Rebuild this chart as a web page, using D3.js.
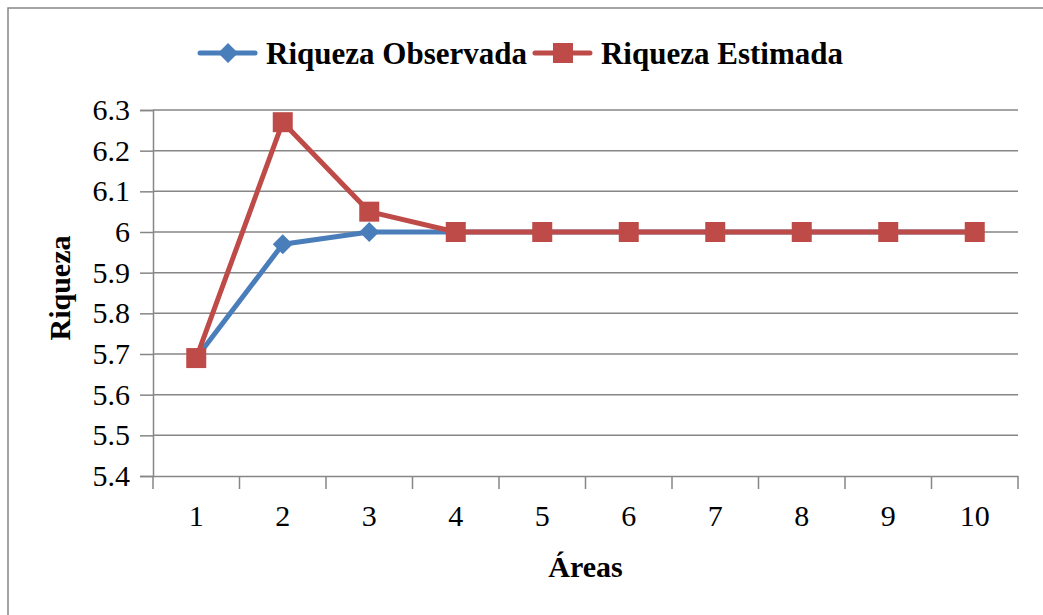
<!DOCTYPE html>
<html>
<head>
<meta charset="utf-8">
<script src="https://cdn.jsdelivr.net/npm/d3@7"></script>
<style>
  body { margin: 0; background: #fff; }
  svg text { font-family: "Times New Roman", "Liberation Serif", Tinos, "DejaVu Serif", serif !important; fill: #000; }
</style>
</head>
<body>
<div id="chart-area"></div>
<script>
/** Data **/
const areas = ['1', '2', '3', '4', '5', '6', '7', '8', '9', '10'];
const riquezaObservada = [5.69, 5.97, 6.0, 6.0, 6.0, 6.0, 6.0, 6.0, 6.0, 6.0];
const riquezaEstimada  = [5.69, 6.27, 6.05, 6.0, 6.0, 6.0, 6.0, 6.0, 6.0, 6.0];
const yTicks = [5.4, 5.5, 5.6, 5.7, 5.8, 5.9, 6.0, 6.1, 6.2, 6.3];

const series = [
    { name: 'Riqueza Observada', values: riquezaObservada, color: '#4A7EBB', marker: 'diamond' },
    { name: 'Riqueza Estimada',  values: riquezaEstimada,  color: '#BE4B48', marker: 'square' }
];

/* SVG */
const W = 1043, H = 615;
const margin = { left: 153, right: 25, top: 110, bottom: 139 };
const width  = W - margin.left - margin.right;
const height = H - margin.top - margin.bottom;
const FONT = 30;

const svg = d3.select('#chart-area')
    .append('svg')
    .attr('width', W)
    .attr('height', H);

// outer frame (right and bottom run off the picture)
svg.append('rect')
    .attr('x', 8).attr('y', 8)
    .attr('width', W + 20).attr('height', H + 20)
    .attr('fill', '#fff')
    .attr('stroke', '#878787')
    .attr('stroke-width', 1.5);

const g = svg.append('g')
    .attr('transform', `translate(${margin.left}, ${margin.top})`);

/* Scales */
const x = d3.scaleBand().domain(areas).range([0, width]);
const y = d3.scaleLinear().domain([5.4, 6.3]).range([height, 0]);

/* Grid + y axis */
const yAxis = g.append('g')
    .attr('class', 'y axis')
    .call(d3.axisLeft(y)
        .tickValues(yTicks)
        .tickSize(13)
        .tickPadding(10)
        .tickFormat(d => String(+d.toFixed(1))));
yAxis.attr('font-family', null);
yAxis.select('.domain').attr('stroke', '#868686').attr('stroke-width', 1.5);
yAxis.selectAll('.tick line').attr('stroke', '#868686').attr('stroke-width', 1.5);
yAxis.selectAll('.tick text').attr('font-size', FONT + 'px');

g.append('g')
    .attr('class', 'grid')
    .selectAll('line')
    .data(yTicks.filter(d => d > 5.4))
    .enter().append('line')
        .attr('x1', 0).attr('x2', width)
        .attr('y1', d => y(d)).attr('y2', d => y(d))
        .attr('stroke', '#868686')
        .attr('stroke-width', 1.5);

/* X axis */
const xAxis = g.append('g')
    .attr('class', 'x axis')
    .attr('transform', `translate(0,${height})`)
    .call(d3.axisBottom(x).tickSize(0).tickPadding(29));
xAxis.attr('font-family', null);
xAxis.select('.domain').attr('stroke', '#868686').attr('stroke-width', 1.5);
xAxis.selectAll('.tick text').attr('font-size', FONT + 'px');

// category boundary ticks
xAxis.append('g')
    .selectAll('line')
    .data(d3.range(areas.length + 1))
    .enter().append('line')
        .attr('x1', i => i * x.step()).attr('x2', i => i * x.step())
        .attr('y1', 0).attr('y2', 13)
        .attr('stroke', '#868686')
        .attr('stroke-width', 1.5);

/* Labels */
g.append('text')
    .attr('x', width / 2)
    .attr('y', height + 101)
    .attr('text-anchor', 'middle')
    .attr('font-size', FONT + 'px')
    .attr('font-weight', 'bold')
    .text('Áreas');

g.append('text')
    .attr('transform', 'rotate(-90)')
    .attr('x', -178)
    .attr('y', -83)
    .attr('text-anchor', 'middle')
    .attr('font-size', FONT + 'px')
    .attr('font-weight', 'bold')
    .text('Riqueza');

/* Markers */
function drawMarker(sel, type, color) {
    if (type === 'square') {
        sel.append('rect')
            .attr('x', -10).attr('y', -10)
            .attr('width', 20).attr('height', 20)
            .attr('fill', color);
    } else {
        sel.append('path')
            .attr('d', 'M0,-10L10,0L0,10L-10,0Z')
            .attr('fill', color);
    }
}

/* Lines */
const line = d3.line()
    .x((d, i) => x(areas[i]) + x.bandwidth() / 2)
    .y(d => y(d));

series.forEach(s => {
    g.append('path')
        .attr('d', line(s.values))
        .attr('fill', 'none')
        .attr('stroke', s.color)
        .attr('stroke-width', 5)
        .attr('stroke-linejoin', 'round');

    g.append('g')
        .selectAll('g')
        .data(s.values)
        .enter().append('g')
            .attr('transform', (d, i) => `translate(${x(areas[i]) + x.bandwidth() / 2},${y(d)})`)
            .each(function() { drawMarker(d3.select(this), s.marker, s.color); });
});

/* Legend */
const legend = svg.append('g');
let lx = 0;
series.forEach(s => {
    const item = legend.append('g').attr('transform', `translate(${lx},0)`);
    item.append('line')
        .attr('x1', 0).attr('x2', 55)
        .attr('y1', 0).attr('y2', 0)
        .attr('stroke', s.color)
        .attr('stroke-width', 5)
        .attr('stroke-linecap', 'round');
    drawMarker(item.append('g').attr('transform', 'translate(28,0)'), s.marker, s.color);
    const t = item.append('text')
        .attr('x', 66)
        .attr('y', 11)
        .attr('font-size', '31px')
        .attr('font-weight', 'bold')
        .text(s.name);
    lx += 66 + t.node().getComputedTextLength() + 8;
});
legend.attr('transform', `translate(${(W - (lx - 8)) / 2},53)`);
</script>
</body>
</html>
